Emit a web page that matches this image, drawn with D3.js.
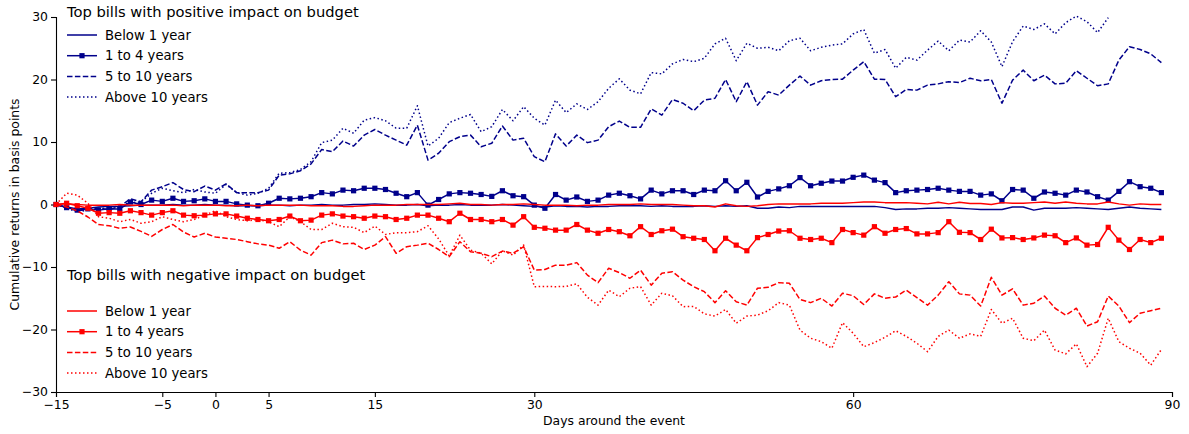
<!DOCTYPE html>
<html>
<head>
<meta charset="utf-8">
<script src="https://cdn.jsdelivr.net/npm/d3@7"></script>
<style>
  html, body { margin: 0; padding: 0; background: #fff; }
  svg { display: block; font-family: "DejaVu Sans", sans-serif; }
</style>
</head>
<body>
<svg id="chart" width="1189" height="434"></svg>
<script>
// Days around the event (first day and last day of the window)
const firstDay = -15;
const lastDay = 89;
const xTicks = [-15, -5, 0, 5, 15, 30, 60, 90];
const yTicks = [-30, -20, -10, 0, 10, 20, 30];

// Cumulative returns (bp), bills with positive impact on budget
const posBelow1 = [0,-0.4,-0.7,-0.6,-0.4,-0.3,-0.3,-0.2,-0.1,-0.1,-0.1,0,-0.1,-0.1,0,-0.1,-0.1,-0.2,-0.2,-0.2,-0.1,-0.1,-0.2,-0.1,-0.1,0,-0.1,-0.1,0,0,0.1,0,-0.1,-0.1,0,-0.2,-0.1,-0.1,0,-0.1,-0.1,-0.1,0,-0.1,-0.2,-0.3,-0.4,-0.2,-0.3,-0.3,-0.4,-0.3,-0.3,-0.2,-0.2,-0.2,-0.3,-0.2,-0.3,-0.3,-0.3,-0.2,-0.3,-0.2,-0.3,-0.2,-0.6,-0.6,-0.4,-0.5,-0.3,-0.3,-0.3,-0.3,-0.3,-0.3,-0.3,-0.3,-0.5,-0.8,-0.7,-0.7,-0.6,-0.6,-0.5,-0.6,-0.7,-0.8,-0.8,-0.8,-0.4,-0.4,-0.9,-0.6,-0.6,-0.6,-0.5,-0.6,-0.7,-0.8,-0.6,-0.4,-0.6,-0.7,-0.8];
const pos1to4 = [0,-0.5,-0.9,-0.7,-0.9,-0.7,-0.7,0.4,0,0.7,0.5,1,0.5,0.6,0.9,0.5,0.5,0.1,-0.1,-0.2,0.2,1,0.9,1,1.25,1.9,1.7,2.3,2.2,2.6,2.6,2.4,1.8,1.25,1.9,-0.1,0.8,1.7,1.9,1.8,1.6,1.3,2.2,1.4,1.25,-0.1,-0.6,1.6,0.7,1.2,0.5,0.7,1.5,1.8,1.4,0.9,2.3,1.7,2.2,2.2,1.6,2.3,2.2,3.8,2.2,3.55,1.2,2.1,2.5,3,4.3,3,3.4,3.75,3.75,4.35,4.7,3.9,3.5,1.9,2.2,2.3,2.4,2.6,2.3,2.1,2.1,1.5,1.7,0.6,2.4,2.3,1,2,1.8,1.5,2.3,2,1.25,0.7,2.1,3.65,2.85,2.6,1.9];
const pos5to10 = [0,-0.5,-1,-0.8,-0.6,-0.8,-0.3,0.9,0.45,2.3,2.85,3.5,2.4,2.05,2.95,2.3,3.3,1.9,1.9,1.9,2.3,4.7,4.9,5.4,6.5,8.8,8.45,10.15,9.35,11.1,12,11.1,10.3,9.5,12.7,7.1,8.2,10.05,10.85,11.1,9.25,9.8,12.55,10.3,10.6,7.65,6.85,11.3,9.35,11.1,9.9,10.3,12.45,13.35,12.35,12.35,15.3,14.3,16.8,16.2,15,16.7,17,20,16.45,19.65,15.9,18.05,17.5,19.1,20.55,19.1,19.8,20,20.05,21.5,22.85,20.05,20,17.25,18.4,18.3,19.1,19.3,19.65,19.5,20.2,19.8,20,16.2,19.9,21.5,19.8,20.7,19.3,19.4,21.4,20.2,19,19.3,23.1,25.25,24.8,24.1,22.7];
const posAbove10 = [0,-0.6,-1.2,-0.9,-0.7,-0.5,-0.2,0.3,0.4,1.8,2.6,2.2,1.9,2.4,2,1.8,3.2,1.9,1.5,1.8,2.6,5,5.1,5.6,6.85,9.9,10.3,12.2,11.4,13.5,13.9,13.4,12.2,12.2,15.8,9.35,10.6,13.1,13.8,14.4,11.65,12.45,15.2,13.4,15.65,13.8,12.7,16.7,14.7,16.1,15.2,16.45,18.6,20.1,18.3,17.7,21.1,20.9,22.5,23.2,22.85,23.4,25.7,26.6,23,25.8,25,25.15,24.6,26.2,26.6,24.6,25.15,25.5,25.7,27.3,28,24.2,24.8,21.8,23.55,23.1,24.7,26.15,24.6,26.3,26,27.8,26,22.05,26.05,28.55,28,28.9,27.3,29.1,30.15,29.25,27.5,29.9];

// Cumulative returns (bp), bills with negative impact on budget
const negBelow1 = [0,0.1,0,-0.1,-0.1,-0.1,0,-0.1,-0.1,-0.1,-0.1,-0.1,-0.2,-0.1,-0.1,-0.1,-0.2,-0.2,-0.1,-0.2,-0.1,-0.1,-0.1,-0.1,-0.2,-0.2,-0.2,-0.3,-0.3,-0.2,-0.1,-0.1,-0.1,0,0,0,0,0.1,0.2,0,0,-0.1,0,0,0.1,0,-0.1,-0.1,-0.1,-0.2,-0.1,-0.1,0,0,0,0.1,0,0,0,-0.1,-0.2,-0.2,-0.4,0.1,-0.2,-0.3,-0.2,0,0.1,0.1,0.1,0.1,0.2,0.2,0.2,0.3,0.4,0.4,0.3,0.3,0.3,0.2,0.1,0.35,0.1,0.35,0.15,0.15,0,0.3,0.2,0.2,0.3,0.4,0.2,0.4,0.2,0.1,0.1,0.4,0.1,-0.1,0.1,0,0];
const neg1to4 = [0,0.2,-0.2,-0.6,-1.4,-1.3,-1.4,-1,-1.3,-1.7,-1.3,-1,-1.7,-1.8,-1.7,-1.5,-1.5,-1.85,-2.2,-2.4,-2.6,-2.4,-1.85,-2.6,-2.5,-1.7,-1.5,-1.85,-1.95,-2.2,-1.85,-1.95,-2.4,-2.2,-1.7,-1.7,-2.2,-2.75,-1.4,-2.4,-2.4,-2.75,-2.4,-3.3,-1.95,-3.65,-3.8,-4.1,-4.1,-3.2,-4.1,-4.6,-4,-4.35,-5,-3.55,-4.8,-4.2,-3.95,-5.15,-5.4,-5.6,-7.4,-5.4,-6.5,-7.4,-5.3,-4.8,-4.25,-4.2,-5.4,-5.6,-5.4,-6.1,-4,-4.5,-4.9,-3.55,-4.6,-4,-3.85,-4.7,-4.7,-4.5,-2.75,-4.45,-4.5,-5.6,-3.95,-5.35,-5.3,-5.6,-5.35,-4.9,-5,-6.1,-5.35,-6.5,-6.4,-3.65,-5.7,-7.2,-5.6,-6.1,-5.4];
const neg5to10 = [0,-0.4,-1,-2,-3.2,-3.4,-3.8,-3.6,-4.3,-5.1,-4,-3.2,-4.4,-5.2,-4.6,-5.2,-5.4,-5.6,-5.95,-6.3,-6.5,-7,-5.95,-7.3,-8.1,-6.1,-5.7,-6.3,-6.2,-7.2,-6.5,-5.15,-7.8,-6.75,-6.5,-6.2,-7.2,-8.35,-5.95,-7.55,-7.8,-8.35,-7.45,-7.8,-6.75,-10.5,-10.4,-9.7,-9.7,-9.3,-11.3,-12.5,-10.2,-10.9,-11.8,-10.5,-12.9,-11,-10.75,-12.1,-13.15,-13.95,-15.7,-13.8,-15.55,-16.1,-13.4,-13.25,-12.5,-12.6,-15.2,-15.7,-15,-16.25,-14.2,-14.6,-16,-14.3,-15,-14.8,-13.7,-14.9,-16.1,-14.5,-12.35,-14.3,-14.5,-16.25,-11.65,-14.5,-13.5,-16.1,-15.8,-14.65,-16.6,-17.7,-16.6,-19.45,-18.75,-14.65,-16.25,-18.9,-17.4,-17,-16.6];
const negAbove10 = [0,1.8,1.5,0.2,-1.95,-2.2,-2.75,-2.4,-3,-2.75,-1.95,-2.4,-2.75,-2.4,-1.7,-1,-1.95,-2.4,-2.6,-2.4,-2.75,-3.55,-1.95,-2.75,-4,-4,-3,-3.55,-3.65,-4.5,-3.45,-4.8,-4.5,-4.5,-4.35,-3.4,-5.5,-8.25,-4.9,-7.3,-7.8,-9.5,-7.4,-8.1,-6.5,-13.15,-13.1,-13.15,-13.1,-12.7,-14.85,-16.1,-13.7,-14.75,-13.4,-13.15,-16.1,-14.2,-14.6,-16.35,-16.3,-17.5,-17.85,-16.8,-19,-17.85,-17.7,-17,-15.7,-16.1,-20.1,-21.4,-21.95,-23,-18.9,-20.6,-22.75,-22.1,-21.25,-20.2,-21.1,-22.2,-23.55,-21.1,-20.1,-21.4,-20.7,-21.1,-16.8,-19,-18.2,-21.4,-21.8,-20.1,-23.3,-23.9,-22.3,-25.95,-23.8,-18.2,-21.95,-23,-23.8,-25.7,-23.2];

const seriesLabels = ["Below 1 year", "1 to 4 years", "5 to 10 years", "Above 10 years"];
const groupTitles = ["Top bills with positive impact on budget", "Top bills with negative impact on budget"];

const BLUE = "#00008b", RED = "#ff0000";
const DASH = { solid: null, marker: null, dashed: "5.5,2.4", dotted: "1.5,2.5" };

const W = 1189, H = 434;
const m = { left: 56, right: 17, top: 17, bottom: 42 };

const svg = d3.select("#chart");
const x = d3.scaleLinear().domain([-15, 90]).range([m.left, W - m.right]);
const y = d3.scaleLinear().domain([-30, 30]).range([H - m.bottom, m.top]);

const fmt = v => (v < 0 ? "\u2212" + Math.abs(v) : String(v));

// Axes: left and bottom spines only
const gx = svg.append("g").attr("transform", `translate(0,${H - m.bottom})`)
  .call(d3.axisBottom(x).tickValues(xTicks).tickFormat(fmt).tickSize(5).tickPadding(3));
const gy = svg.append("g").attr("transform", `translate(${m.left},0)`)
  .call(d3.axisLeft(y).tickValues(yTicks).tickFormat(fmt).tickSize(5).tickPadding(3));
[gx, gy].forEach(g => {
  g.select(".domain").attr("stroke", "#000").attr("stroke-width", 1.1);
  g.selectAll(".tick line").attr("stroke", "#000").attr("stroke-width", 1.1);
  g.selectAll(".tick text").attr("fill", "#000").style("font-size", "12.4px").style("font-family", "DejaVu Sans");
});

svg.append("text").attr("x", (m.left + W - m.right) / 2).attr("y", 425)
  .attr("text-anchor", "middle").style("font-size", "12.4px").text("Days around the event");
svg.append("text").attr("transform", `translate(19,${(m.top + H - m.bottom) / 2}) rotate(-90)`)
  .attr("text-anchor", "middle").style("font-size", "12.4px").text("Cumulative returns in basis points");

const line = d3.line().x(d => x(d[0])).y(d => y(d[1]));
const styles = ["solid", "marker", "dashed", "dotted"];

function drawSeries(values, color, style) {
  const pts = values.map((v, i) => [firstDay + i, v]);
  svg.append("path").datum(pts)
    .attr("d", line).attr("fill", "none").attr("stroke", color)
    .attr("stroke-width", 1.5).attr("stroke-linejoin", "round")
    .attr("stroke-dasharray", DASH[style]);
  if (style === "marker") {
    svg.append("g").selectAll("rect").data(pts).join("rect")
      .attr("x", d => x(d[0]) - 2.6).attr("y", d => y(d[1]) - 2.6)
      .attr("width", 5.2).attr("height", 5.2).attr("fill", color);
  }
}

const posSeries = [posBelow1, pos1to4, pos5to10, posAbove10];
const negSeries = [negBelow1, neg1to4, neg5to10, negAbove10];
posSeries.forEach((s, i) => drawSeries(s, BLUE, styles[i]));
negSeries.forEach((s, i) => drawSeries(s, RED, styles[i]));

// Legends
function legend(titleY, firstRowY, color) {
  const g = svg.append("g");
  g.append("text").attr("x", 67).attr("y", titleY).style("font-size", "14.7px")
    .text(groupTitles[color === BLUE ? 0 : 1]);
  seriesLabels.forEach((lab, i) => {
    const cy = firstRowY + i * 20.7;
    g.append("line").attr("x1", 67).attr("x2", 97).attr("y1", cy).attr("y2", cy)
      .attr("stroke", color).attr("stroke-width", 1.5).attr("stroke-dasharray", DASH[styles[i]]);
    if (styles[i] === "marker") {
      g.append("rect").attr("x", 82 - 2.6).attr("y", cy - 2.6).attr("width", 5.2).attr("height", 5.2).attr("fill", color);
    }
    g.append("text").attr("x", 105).attr("y", cy + 4.7).style("font-size", "13.2px").text(lab);
  });
}
legend(17, 35, BLUE);
legend(279.5, 311, RED);
</script>
</body>
</html>
